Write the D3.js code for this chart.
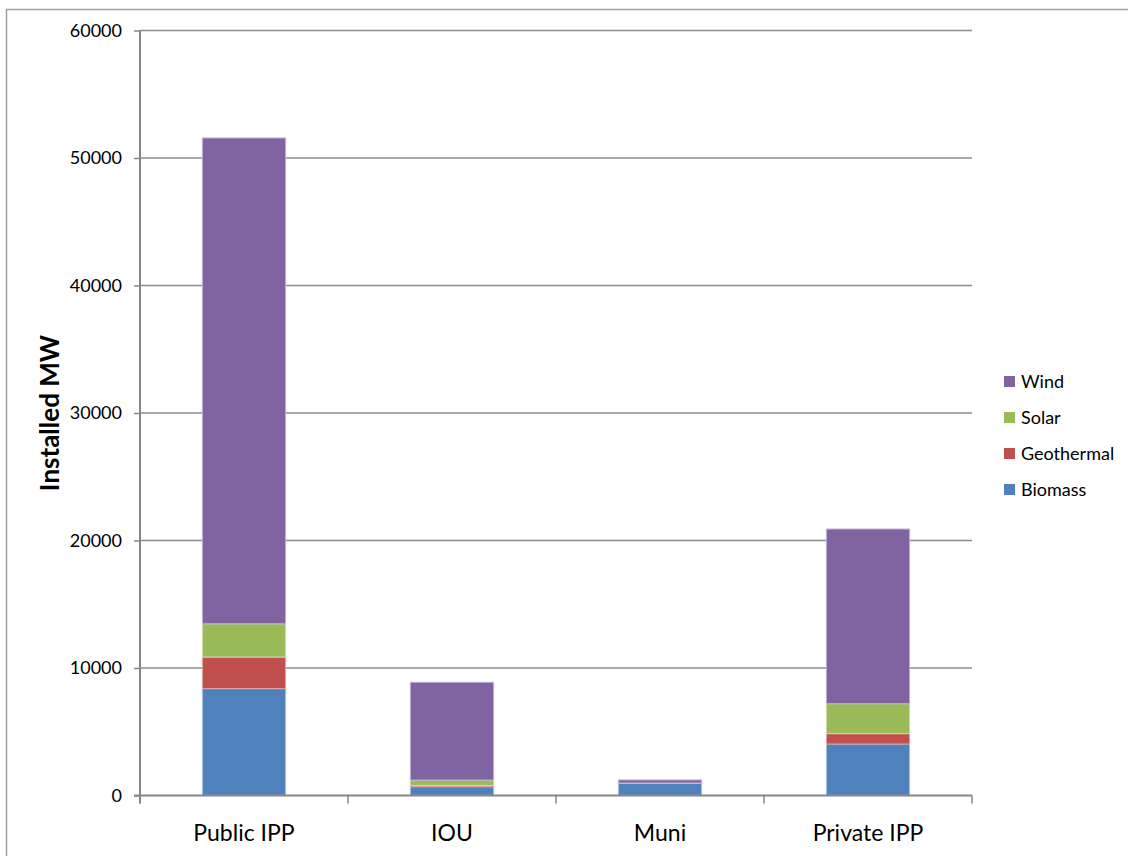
<!DOCTYPE html>
<html>
<head>
<meta charset="utf-8">
<script src="https://cdn.jsdelivr.net/npm/d3@7"></script>
<style>
  html, body { margin: 0; padding: 0; background: #fff; }
  svg { display: block; }
  text { font-family: Lato, "Open Sans", "Liberation Sans", sans-serif; fill: #000; }
</style>
</head>
<body>
<svg id="chart" width="1128" height="856"></svg>
<script>
// Installed renewable capacity (MW) by owner type
const categories = ["Public IPP", "IOU", "Muni", "Private IPP"];
const seriesNames = ["Biomass", "Geothermal", "Solar", "Wind"];
const biomass    = [8380, 690, 960, 4040];
const geothermal = [2480, 100, 0, 810];
const solar      = [2610, 420, 20, 2350];
const wind       = [38100, 7670, 240, 13700];
const yTicks = [0, 10000, 20000, 30000, 40000, 50000, 60000];
const colors = ["#4f81bd", "#c0504d", "#9bbb59", "#8064a2"];
const edgeColors = ["#a7c0de", "#dfa8a6", "#cddcac", "#bfb1d0"];

const rows = categories.map((c, i) => ({
  category: c,
  Biomass: biomass[i],
  Geothermal: geothermal[i],
  Solar: solar[i],
  Wind: wind[i]
}));

const svg = d3.select("#chart");
const W = 1128, H = 856;
const plot = { left: 140, right: 972, top: 30.5, bottom: 795.5 };

// outer chart frame
svg.append("rect")
  .attr("x", 6.5).attr("y", 9.5)
  .attr("width", W + 10).attr("height", H + 10)
  .attr("fill", "none").attr("stroke", "#a0a0a0").attr("stroke-width", 1.5);

const x = d3.scaleBand().domain(categories)
  .range([plot.left, plot.right]).paddingInner(0.6).paddingOuter(0.3);
const y = d3.scaleLinear().domain([0, 60000]).range([plot.bottom, plot.top]);

// horizontal gridlines
svg.append("g").selectAll("line")
  .data(yTicks.filter(d => d > 0))
  .join("line")
  .attr("x1", plot.left).attr("x2", plot.right)
  .attr("y1", d => y(d)).attr("y2", d => y(d))
  .attr("stroke", "#8c8c8c").attr("stroke-width", 1.5);

// stacked bars
const stack = d3.stack().keys(seriesNames);
const layers = stack(rows);
svg.append("g").selectAll("g")
  .data(layers)
  .join("g")
  .attr("fill", (d, i) => colors[i])
  .attr("stroke", (d, i) => edgeColors[i])
  .attr("stroke-width", 1)
  .selectAll("rect")
  .data(d => d.filter(s => s[1] - s[0] > 0))
  .join("rect")
  .attr("x", d => x(d.data.category))
  .attr("width", x.bandwidth())
  .attr("y", d => y(d[1]))
  .attr("height", d => y(d[0]) - y(d[1]));

// y axis
const yAxis = d3.axisLeft(y).tickValues(yTicks).tickSize(6).tickPadding(12)
  .tickFormat(d3.format("d"));
const gy = svg.append("g").attr("transform", `translate(${plot.left},0)`).call(yAxis);
gy.select(".domain").remove();
gy.selectAll(".tick line").attr("stroke", "#868686").attr("stroke-width", 1.5);
gy.selectAll(".tick text").attr("font-size", 18).attr("fill", "#000");
svg.append("line")
  .attr("x1", plot.left).attr("x2", plot.left)
  .attr("y1", plot.top).attr("y2", plot.bottom + 8)
  .attr("stroke", "#868686").attr("stroke-width", 2);

// x axis baseline and category dividers
svg.append("line")
  .attr("x1", plot.left - 6).attr("x2", plot.right)
  .attr("y1", plot.bottom).attr("y2", plot.bottom)
  .attr("stroke", "#868686").attr("stroke-width", 2);
svg.append("g").selectAll("line")
  .data(d3.range(categories.length + 1))
  .join("line")
  .attr("x1", i => plot.left + i * (plot.right - plot.left) / categories.length)
  .attr("x2", i => plot.left + i * (plot.right - plot.left) / categories.length)
  .attr("y1", plot.bottom).attr("y2", plot.bottom + 8)
  .attr("stroke", "#868686").attr("stroke-width", 1.5);

// category labels
svg.append("g").selectAll("text")
  .data(categories)
  .join("text")
  .attr("x", d => x(d) + x.bandwidth() / 2)
  .attr("y", 841)
  .attr("text-anchor", "middle")
  .attr("font-size", 23)
  .text(d => d);

// y axis title
svg.append("text")
  .attr("transform", `translate(59,${(plot.top + plot.bottom) / 2}) rotate(-90)`)
  .attr("text-anchor", "middle")
  .attr("font-size", 26)
  .attr("font-weight", "bold")
  .text("Installed MW");

// legend (Wind on top)
const legendOrder = seriesNames.map((n, i) => ({ name: n, color: colors[i] })).reverse();
const lg = svg.append("g").selectAll("g")
  .data(legendOrder)
  .join("g")
  .attr("transform", (d, i) => `translate(1004,${381 + i * 36})`);
lg.append("rect")
  .attr("x", 0).attr("y", -5).attr("width", 11).attr("height", 11)
  .attr("fill", d => d.color);
lg.append("text")
  .attr("x", 17).attr("y", 7)
  .attr("font-size", 18)
  .text(d => d.name);
</script>
</body>
</html>
